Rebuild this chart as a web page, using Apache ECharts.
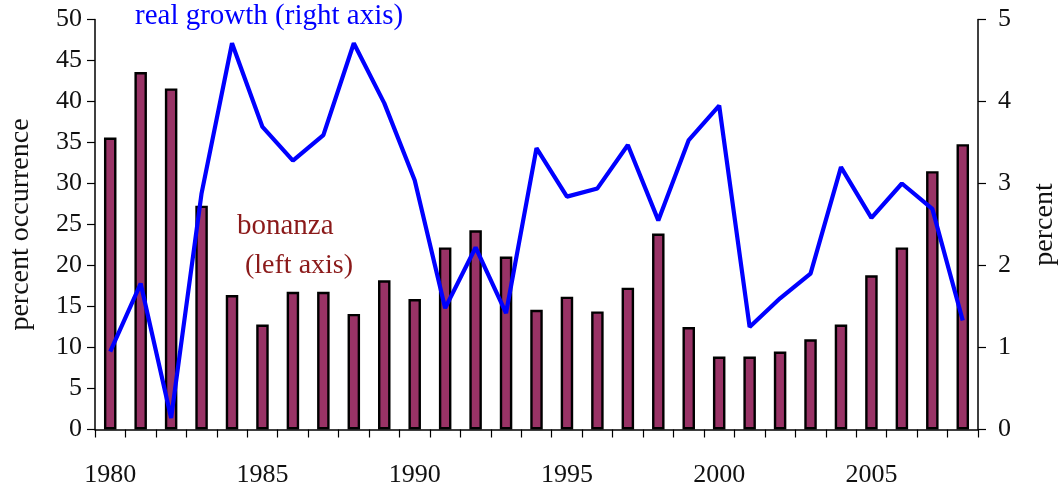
<!DOCTYPE html>
<html>
<head>
<meta charset="utf-8">
<script src="https://cdn.jsdelivr.net/npm/echarts@6/dist/echarts.min.js"></script>
<style>
  html, body { margin: 0; padding: 0; background: #fff; }
  #main { width: 1064px; height: 489px; }
</style>
</head>
<body>
<div id="main"></div>
<script>
var years = ['1980','1981','1982','1983','1984','1985','1986','1987','1988','1989',
             '1990','1991','1992','1993','1994','1995','1996','1997','1998','1999',
             '2000','2001','2002','2003','2004','2005','2006','2007','2008'];
// bonanza occurrence, percent (left axis)
var bonanza = [35.6, 43.6, 41.6, 27.3, 16.4, 12.8, 16.8, 16.8, 14.1, 18.2,
               15.9, 22.2, 24.3, 21.1, 14.6, 16.2, 14.4, 17.3, 23.9, 12.5,
               8.9, 8.9, 9.5, 11.0, 12.8, 18.8, 22.2, 31.5, 34.8];
// real growth, percent (right axis)
var growth = [0.95, 1.78, 0.14, 2.88, 4.71, 3.69, 3.28, 3.59, 4.71, 3.98,
              3.04, 1.48, 2.22, 1.42, 3.43, 2.84, 2.94, 3.47, 2.55, 3.53,
              3.95, 1.25, 1.60, 1.90, 3.20, 2.58, 3.00, 2.69, 1.33];

var font = 'Liberation Serif';
var chart = echarts.init(document.getElementById('main'));
chart.setOption({
  animation: false,
  textStyle: { fontFamily: font },
  grid: { left: 95, right: 86, top: 19.5, bottom: 59.5, outerBoundsMode: 'none', containLabel: false },
  graphic: [
    { type: 'text', left: 135, top: 2,
      style: { text: 'real growth (right axis)', fill: '#0000ff', font: '29px "Liberation Serif"' } },
    { type: 'text', left: 237, top: 212,
      style: { text: 'bonanza', fill: '#8b1a1a', font: '29px "Liberation Serif"' } },
    { type: 'text', left: 245, top: 252,
      style: { text: '(left axis)', fill: '#8b1a1a', font: '28px "Liberation Serif"' } }
  ],
  xAxis: {
    type: 'category',
    data: years,
    boundaryGap: true,
    axisLine: { lineStyle: { color: '#000', width: 1.5 } },
    axisTick: { show: true, interval: 0, length: 8, lineStyle: { color: '#000', width: 1.2 } },
    axisLabel: { interval: 4, margin: 33, color: '#111', fontSize: 26, fontFamily: font },
    splitLine: { show: false }
  },
  yAxis: [
    {
      type: 'value', min: 0, max: 50, interval: 5, position: 'left',
      name: 'percent occurrence', nameLocation: 'middle', nameGap: 60, nameRotate: 90,
      nameTextStyle: { color: '#111', fontSize: 28, fontFamily: font },
      axisLine: { show: true, lineStyle: { color: '#000', width: 1.5 } },
      axisTick: { show: true, length: 8, lineStyle: { color: '#000', width: 1.2 } },
      axisLabel: { margin: 13, color: '#111', fontSize: 26, fontFamily: font },
      splitLine: { show: false }
    },
    {
      type: 'value', min: 0, max: 5, interval: 1, position: 'right',
      name: 'percent', nameLocation: 'middle', nameGap: 53, nameRotate: 90,
      nameTextStyle: { color: '#111', fontSize: 28, fontFamily: font },
      axisLine: { show: true, lineStyle: { color: '#000', width: 1.5 } },
      axisTick: { show: true, length: 8, lineStyle: { color: '#000', width: 1.2 } },
      axisLabel: { margin: 20, color: '#111', fontSize: 26, fontFamily: font },
      splitLine: { show: false }
    }
  ],
  series: [
    {
      name: 'bonanza', type: 'bar', yAxisIndex: 0, data: bonanza,
      barWidth: 12.5,
      itemStyle: { color: '#993366', borderColor: '#000', borderWidth: 2.4 }
    },
    {
      name: 'real growth', type: 'line', yAxisIndex: 1, data: growth,
      symbol: 'none',
      lineStyle: { color: '#0000ff', width: 4.2 },
      z: 3
    }
  ]
});
</script>
</body>
</html>
